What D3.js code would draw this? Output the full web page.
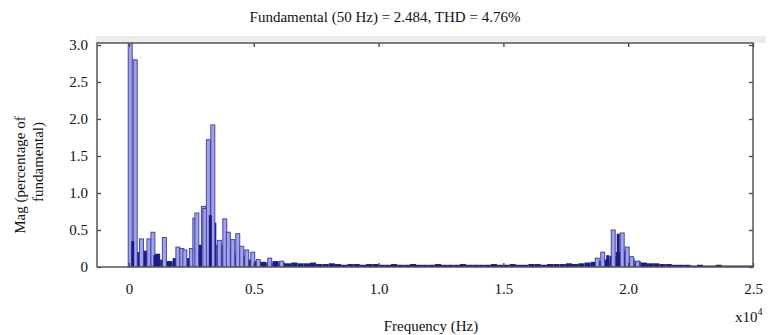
<!DOCTYPE html>
<html>
<head>
<meta charset="utf-8">
<script src="https://cdn.jsdelivr.net/npm/d3@7"></script>
<style>
  body { margin: 0; background: #fff; }
  text { font-family: "Liberation Serif", "Times New Roman", serif; }
</style>
</head>
<body>
<div id="chart"></div>
<script>
// ─── Data: frequency (Hz) and magnitude (% of fundamental) ───
const peakFreqs = [50, 250, 500, 800, 960, 1420, 1960, 2120, 2240, 2500, 2640, 2720, 2980, 3040,
                   3180, 3360, 3620, 3840, 3980, 4160, 4360, 4520, 4720, 4960, 5180, 5640, 6120,
                   18760, 18980, 19400, 19760, 19960, 20140, 20380];
const peakMags  = [100, 2.80, 0.38, 0.38, 0.47, 0.40, 0.27, 0.25, 0.23, 0.25, 0.66, 0.73, 0.82, 0.79,
                   1.72, 1.92, 0.36, 0.65, 0.47, 0.37, 0.45, 0.28, 0.23, 0.20, 0.10, 0.12, 0.08,
                   0.12, 0.20, 0.50, 0.46, 0.27, 0.14, 0.08];

const darkFreqs = [150, 1040, 2860, 3260, 19180, 19600];
const darkMags  = [0.35, 0.16, 0.30, 0.70, 0.16, 0.45];

// background spectrum, one value per 250 Hz bin from 0 Hz
const floorStep = 250;
const floorMags = [
  0.30, 0.20, 0.22, 0.15, 0.18, 0.10, 0.08, 0.12, 0.14, 0.12,
  0.15, 0.25, 0.45, 0.60, 0.30, 0.22, 0.25, 0.18, 0.15, 0.10,
  0.08, 0.07, 0.06, 0.08, 0.06, 0.05, 0.06, 0.05, 0.05, 0.06,
  0.04, 0.04, 0.05, 0.04, 0.03, 0.04, 0.04, 0.03, 0.04, 0.04,
  0.03, 0.03, 0.04, 0.03, 0.03, 0.04, 0.03, 0.03, 0.03, 0.04,
  0.03, 0.03, 0.03, 0.04, 0.03, 0.03, 0.03, 0.03, 0.04, 0.03,
  0.03, 0.04, 0.03, 0.03, 0.04, 0.04, 0.03, 0.04, 0.04, 0.04,
  0.05, 0.04, 0.05, 0.06, 0.07, 0.08, 0.10, 0.15, 0.20, 0.22,
  0.12, 0.08, 0.06, 0.05, 0.05, 0.04, 0.04, 0.03, 0.03, 0.03,
  0.02, 0.03, 0.02, 0.02, 0.03, 0.02, 0.02, 0.02, 0.02, 0.02, 0.02
];

const xTicks = [0, 5000, 10000, 15000, 20000, 25000];
const xTickLabels = ["0", "0.5", "1.0", "1.5", "2.0", "2.5"];
const yTicks = [0, 0.5, 1, 1.5, 2, 2.5, 3];
const yTickLabels = ["0", "0.5", "1.0", "1.5", "2.0", "2.5", "3.0"];

const width = 769, height = 335;
const plot = { left: 97, right: 753, top: 43, bottom: 267 };

const svg = d3.select("#chart").append("svg")
  .attr("width", width).attr("height", height);

// ─── Scales ───
const x = d3.scaleLinear().domain([-1280, 25000]).range([plot.left, plot.right]);
const y = d3.scaleLinear().domain([0, 3.027]).range([plot.bottom, plot.top]);

// light grey strip above the axes box (from the scanned figure)
svg.append("rect")
  .attr("x", plot.left - 1).attr("y", plot.top - 7)
  .attr("width", 767 - plot.left).attr("height", 7)
  .attr("fill", "#ececec");

svg.append("rect")
  .attr("x", plot.left).attr("y", plot.top)
  .attr("width", plot.right - plot.left).attr("height", plot.bottom - plot.top)
  .attr("fill", "#fff");

svg.append("defs").append("clipPath").attr("id", "clip")
  .append("rect")
    .attr("x", plot.left).attr("y", plot.top)
    .attr("width", plot.right - plot.left).attr("height", plot.bottom - plot.top);

const bars = svg.append("g").attr("clip-path", "url(#clip)");

// ─── Background bins ───
bars.selectAll(".floor")
  .data(floorMags).enter().append("rect")
    .attr("class", "floor")
    .attr("x", (d, i) => x(i * floorStep))
    .attr("width", x(floorStep) - x(0))
    .attr("y", d => y(d))
    .attr("height", d => y(0) - y(d))
    .attr("fill", "#1c1c84");

// ─── Harmonic bars ───
const peaks = peakFreqs.map((f, i) => ({ f, v: peakMags[i] }));
bars.selectAll(".peak")
  .data(peaks).enter().append("rect")
    .attr("class", "peak")
    .attr("x", d => x(d.f) - 2)
    .attr("width", 4)
    .attr("y", d => y(d.v))
    .attr("height", d => y(0) - y(d.v))
    .attr("fill", "#a2a2e6")
    .attr("stroke", "#3a3aa6")
    .attr("stroke-width", 0.9);

const darks = darkFreqs.map((f, i) => ({ f, v: darkMags[i] }));
bars.selectAll(".dark")
  .data(darks).enter().append("rect")
    .attr("class", "dark")
    .attr("x", d => x(d.f) - 1.5)
    .attr("width", 3)
    .attr("y", d => y(d.v))
    .attr("height", d => y(0) - y(d.v))
    .attr("fill", "#1a1a80");

// ─── Axes ───
function styleAxis(g) {
  g.select(".domain").remove();
  g.selectAll(".tick line").attr("stroke", "#444").attr("stroke-width", 1.3);
  g.selectAll(".tick text")
    .attr("fill", "#111")
    .style("font-family", "'Liberation Serif', 'Times New Roman', serif")
    .style("font-size", "15px");
}

svg.append("g")
  .attr("transform", `translate(${plot.left},0)`)
  .call(d3.axisLeft(y).tickValues(yTicks).tickSize(-4).tickPadding(9)
    .tickFormat((d, i) => yTickLabels[i]))
  .call(styleAxis);

svg.append("g")
  .attr("transform", `translate(${plot.right},0)`)
  .call(d3.axisRight(y).tickValues(yTicks).tickSize(-4).tickFormat(""))
  .call(styleAxis);

svg.append("g")
  .attr("transform", `translate(0,${plot.bottom})`)
  .call(d3.axisBottom(x).tickValues(xTicks).tickSize(-4).tickPadding(16)
    .tickFormat((d, i) => xTickLabels[i]))
  .call(styleAxis);

svg.append("g")
  .attr("transform", `translate(0,${plot.top})`)
  .call(d3.axisTop(x).tickValues(xTicks).tickSize(-4).tickFormat(""))
  .call(styleAxis);

// box
svg.append("rect")
  .attr("x", plot.left).attr("y", plot.top)
  .attr("width", plot.right - plot.left).attr("height", plot.bottom - plot.top)
  .attr("fill", "none")
  .attr("stroke", "#555")
  .attr("stroke-width", 1.5);

// ─── Texts ───
svg.append("text")
  .attr("x", 385).attr("y", 22)
  .attr("text-anchor", "middle")
  .attr("font-size", 15).attr("fill", "#111")
  .text("Fundamental (50 Hz) = 2.484, THD = 4.76%");

svg.append("text")
  .attr("x", 431).attr("y", 331)
  .attr("text-anchor", "middle")
  .attr("font-size", 15).attr("fill", "#111")
  .text("Frequency (Hz)");

const exp = svg.append("text")
  .attr("x", 735).attr("y", 322)
  .attr("font-size", 15).attr("fill", "#111");
exp.append("tspan").text("x10");
exp.append("tspan").attr("dy", -7).attr("font-size", 10).text("4");

svg.append("text")
  .attr("transform", "translate(25,175) rotate(-90)")
  .attr("text-anchor", "middle")
  .attr("font-size", 15).attr("fill", "#111")
  .text("Mag (percentage of");

svg.append("text")
  .attr("transform", "translate(43,162) rotate(-90)")
  .attr("text-anchor", "middle")
  .attr("font-size", 15).attr("fill", "#111")
  .text("fundamental)");
</script>
</body>
</html>
